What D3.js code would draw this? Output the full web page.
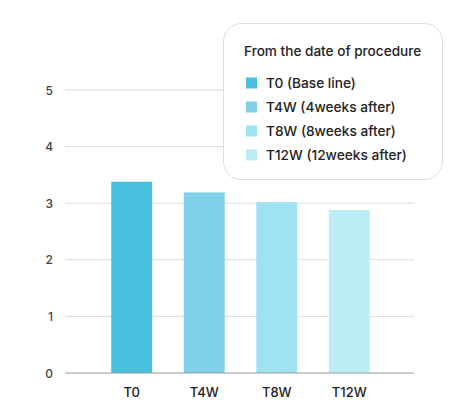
<!DOCTYPE html>
<html>
<head>
<meta charset="utf-8">
<script src="https://cdn.jsdelivr.net/npm/d3@7"></script>
<style>
  body { margin: 0; background: #fff; }
  #chart { width: 456px; height: 410px; }
  text { font-family: Inter, "Liberation Sans", Arial, sans-serif; }
</style>
</head>
<body>
<div id="chart"></div>
<script>
const categories = ["T0", "T4W", "T8W", "T12W"];
const values = [3.38, 3.19, 3.02, 2.88];
const legendLabels = ["T0 (Base line)", "T4W (4weeks after)", "T8W (8weeks after)", "T12W (12weeks after)"];
const colors = ["#48c0dd", "#80d0ea", "#9fe2f1", "#bbedf5"];
const yTicks = [0, 1, 2, 3, 4, 5];
const legendTitle = "From the date of procedure";

const width = 456, height = 410;
const svg = d3.select("#chart").append("svg")
  .attr("width", width)
  .attr("height", height);

// plot area
const x = d3.scaleBand().domain(categories).range([75, 406])
  .paddingInner(0.436).paddingOuter(0.5);
const y = d3.scaleLinear().domain([0, 5]).range([373, 90]);

// gridlines
svg.append("g")
  .selectAll("line")
  .data(yTicks.filter(d => d > 0))
  .join("line")
  .attr("x1", 65).attr("x2", 414)
  .attr("y1", d => y(d)).attr("y2", d => y(d))
  .attr("stroke", "#dcdcdc").attr("stroke-width", 1);

// y labels
svg.append("g")
  .selectAll("text")
  .data(yTicks)
  .join("text")
  .attr("x", 53)
  .attr("y", d => y(d) + 4.5)
  .attr("text-anchor", "end")
  .attr("font-size", 12)
  .attr("font-weight", 500)
  .attr("fill", "#444")
  .text(d => d);

// bars
svg.append("g")
  .selectAll("rect")
  .data(values)
  .join("rect")
  .attr("x", (d, i) => x(categories[i]))
  .attr("width", x.bandwidth())
  .attr("y", d => y(d))
  .attr("height", d => y(0) - y(d))
  .attr("fill", (d, i) => colors[i]);

// baseline
svg.append("line")
  .attr("x1", 65).attr("x2", 414)
  .attr("y1", y(0)).attr("y2", y(0))
  .attr("stroke", "#999").attr("stroke-width", 1);

// x labels
svg.append("g")
  .selectAll("text")
  .data(categories)
  .join("text")
  .attr("x", d => x(d) + x.bandwidth() / 2)
  .attr("y", 397)
  .attr("text-anchor", "middle")
  .attr("font-size", 13)
  .attr("font-weight", 500)
  .attr("fill", "#222")
  .text(d => d);

// legend
const lg = svg.append("g");
lg.append("rect")
  .attr("x", 223.5).attr("y", 23.5)
  .attr("width", 219).attr("height", 156)
  .attr("rx", 18)
  .attr("fill", "#fff")
  .attr("stroke", "#dedede");
lg.append("text")
  .attr("x", 244).attr("y", 56)
  .attr("font-size", 13.6)
  .attr("font-weight", 500)
  .attr("fill", "#222")
  .text(legendTitle);
const items = lg.selectAll("g.item")
  .data(legendLabels)
  .join("g")
  .attr("class", "item")
  .attr("transform", (d, i) => `translate(246,${83 + i * 24})`);
items.append("rect")
  .attr("x", 0).attr("y", -5.5)
  .attr("width", 11).attr("height", 11)
  .attr("fill", (d, i) => colors[i]);
items.append("text")
  .attr("x", 20).attr("y", 5)
  .attr("font-size", 13.7)
  .attr("font-weight", 500)
  .attr("fill", "#222")
  .text(d => d);
</script>
</body>
</html>
